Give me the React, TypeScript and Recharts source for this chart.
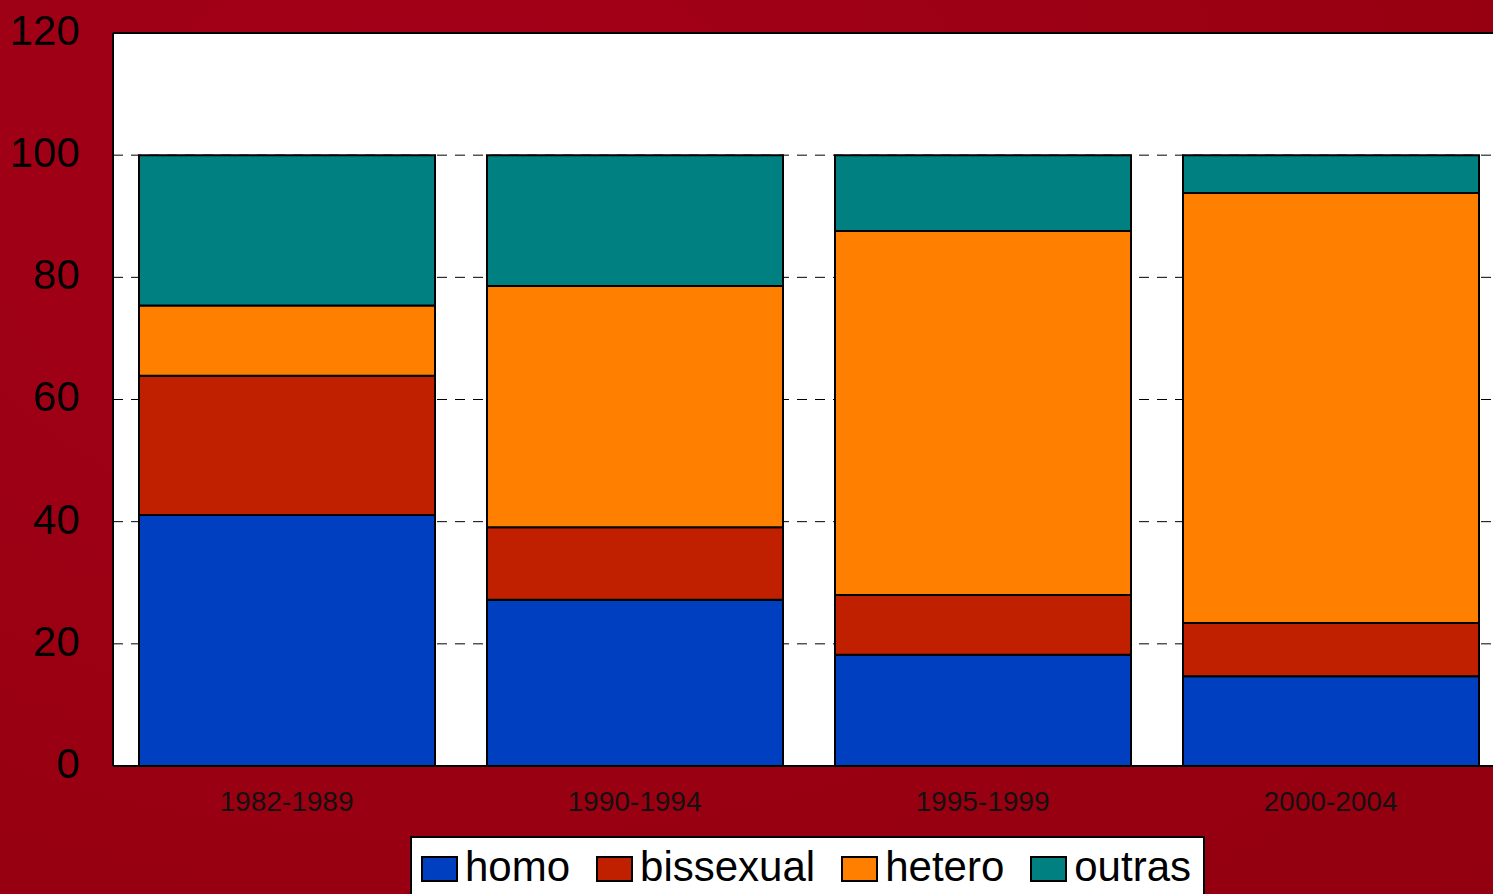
import { BarChart, Bar, XAxis, YAxis, CartesianGrid, Legend, ReferenceLine } from 'recharts';

const periods = ['1982-1989', '1990-1994', '1995-1999', '2000-2004'];
const homo = [41.1, 27.2, 18.2, 14.7];
const bissexual = [22.8, 11.9, 9.8, 8.7];
const hetero = [11.5, 39.5, 59.6, 70.4];
const outras = [24.6, 21.4, 12.4, 6.2];
const yTicks = [0, 20, 40, 60, 80, 100, 120];
const gridValues = [20, 40, 60, 80, 100];

const SERIES = [
  { key: 'homo', color: '#0040c0' },
  { key: 'bissexual', color: '#c02000' },
  { key: 'hetero', color: '#ff8000' },
  { key: 'outras', color: '#008080' },
];

const data = periods.map((period, i) => ({
  period,
  homo: homo[i],
  bissexual: bissexual[i],
  hetero: hetero[i],
  outras: outras[i],
}));

const FONT = '"Liberation Sans", Arial, sans-serif';

// legend drawn in series order (recharts sorts by name otherwise)
function LegendBox() {
  return (
    <div
      style={{
        background: '#fff',
        border: '2px solid #000',
        width: 795,
        height: 70,
        boxSizing: 'border-box',
        display: 'flex',
        alignItems: 'flex-start',
        paddingLeft: 9,
        paddingTop: 6,
        fontFamily: FONT,
        fontSize: 42,
        color: '#000',
        lineHeight: '46px',
      }}
    >
      {SERIES.map((s) => (
        <div key={s.key} style={{ display: 'flex', alignItems: 'center', marginRight: 26 }}>
          <span
            style={{
              display: 'inline-block',
              width: 37,
              height: 26,
              background: s.color,
              border: '2px solid #000',
              boxSizing: 'border-box',
              marginRight: 7,
              marginTop: 4,
            }}
          />
          <span>{s.key}</span>
        </div>
      ))}
    </div>
  );
}

export default function App() {
  return (
    <div
      style={{
        position: 'fixed',
        left: 0,
        top: 0,
        width: 1493,
        height: 894,
        overflow: 'hidden',
        background: 'radial-gradient(ellipse at 30% 20%, #a5001a 0%, #9a0012 55%, #93000f 100%)',
      }}
    >
      <BarChart
        width={1520}
        height={894}
        data={data}
        margin={{ top: 33, right: 15, left: 0, bottom: 0 }}
        barCategoryGap={26}
      >
        <CartesianGrid
          vertical={false}
          horizontalValues={gridValues}
          fill="#ffffff"
          fillOpacity={1}
          stroke="#000"
          strokeDasharray="10 8"
        />
        <XAxis
          dataKey="period"
          height={128}
          tickLine={false}
          tickSize={0}
          tickMargin={25}
          axisLine={{ stroke: '#000', strokeWidth: 2 }}
          tick={{ fill: '#111', fontSize: 28, fontFamily: FONT }}
        />
        <YAxis
          width={113}
          domain={[0, 120]}
          ticks={yTicks}
          interval={0}
          tickLine={false}
          tickSize={0}
          tickMargin={33}
          axisLine={{ stroke: '#000', strokeWidth: 2 }}
          tick={{ fill: '#000', fontSize: 42, fontFamily: FONT, dy: -3 }}
        />
        <ReferenceLine y={120} stroke="#000" strokeWidth={2} />
        {SERIES.map((s) => (
          <Bar
            key={s.key}
            dataKey={s.key}
            stackId="a"
            fill={s.color}
            stroke="#000"
            strokeWidth={2}
            isAnimationActive={false}
          />
        ))}
        <Legend
          content={<LegendBox />}
          wrapperStyle={{ position: 'absolute', left: 410, top: 836, width: 795, height: 0, overflow: 'visible' }}
        />
      </BarChart>
    </div>
  );
}
